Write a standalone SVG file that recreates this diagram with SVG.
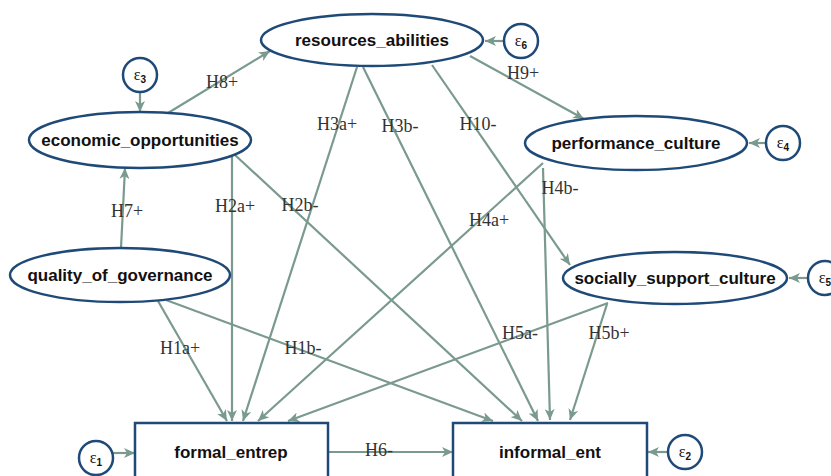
<svg xmlns="http://www.w3.org/2000/svg" width="831" height="476" viewBox="0 0 831 476">
<defs>
<marker id="ah" markerUnits="userSpaceOnUse" markerWidth="12" markerHeight="10" refX="11" refY="5" orient="auto">
<path d="M0,0 L11,5 L0,10 L3,5 z" fill="#7a9a8e"/>
</marker>
<style>
.n{fill:#fff;stroke:#1f4a78;stroke-width:2.5}
.t{font-family:"Liberation Sans",Arial,sans-serif;font-weight:bold;font-size:17px;fill:#111;text-anchor:middle}
.e{fill:none;stroke:#7a9a8e;stroke-width:2.2;marker-end:url(#ah)}
.l{font-family:"Liberation Serif","Times New Roman",serif;font-size:18px;fill:#333;text-anchor:middle}
.eps{font-family:"Liberation Serif",serif;font-size:16px;fill:#111;text-anchor:middle}
.sub{font-family:"Liberation Sans",sans-serif;font-size:10px;font-weight:bold}
</style>
</defs>
<rect width="831" height="476" fill="#fff"/>
<g id="connectors">
<path class="e" d="M504,41 L485,41"/>
<path class="e" d="M140,92 L140,112"/>
<path class="e" d="M766,143 L749,143"/>
<path class="e" d="M808,278 L789,278"/>
<path class="e" d="M113,453 L135,453"/>
<path class="e" d="M668,452 L648,452"/>
<path class="e" d="M168,113 L270,51"/>
<path class="e" d="M121,248 L125,168"/>
<path class="e" d="M470,56 L584,119"/>
<path class="e" d="M432,65 L570,265"/>
<path class="e" d="M357,67 L243,421"/>
<path class="e" d="M363,67 L538,421"/>
<path class="e" d="M232,157 L232,421"/>
<path class="e" d="M235,155 L522,421"/>
<path class="e" d="M543,163 L258,421"/>
<path class="e" d="M543,168 L550,420"/>
<path class="e" d="M158,301 L227,421"/>
<path class="e" d="M166,300 L493,421"/>
<path class="e" d="M608,303 L288,421"/>
<path class="e" d="M607,304 L570,420"/>
<path class="e" d="M328,452 L453,452"/>
<text class="l" x="222" y="88">H8+</text>
<text class="l" x="127" y="217">H7+</text>
<text class="l" x="523" y="79">H9+</text>
<text class="l" x="337" y="130">H3a+</text>
<text class="l" x="400" y="132">H3b-</text>
<text class="l" x="478" y="130">H10-</text>
<text class="l" x="235" y="212">H2a+</text>
<text class="l" x="300" y="211">H2b-</text>
<text class="l" x="489" y="226">H4a+</text>
<text class="l" x="560" y="194">H4b-</text>
<text class="l" x="180" y="354">H1a+</text>
<text class="l" x="303" y="354">H1b-</text>
<text class="l" x="520" y="339">H5a-</text>
<text class="l" x="609" y="339">H5b+</text>
<text class="l" x="379" y="456">H6-</text>
</g>
<g id="resources_abilities"><ellipse class="n" cx="372" cy="40" rx="111" ry="26"/><text class="t" x="372" y="46">resources_abilities</text></g>
<g id="economic_opportunities"><ellipse class="n" cx="140" cy="140" rx="111" ry="28"/><text class="t" x="140" y="146">economic_opportunities</text></g>
<g id="performance_culture"><ellipse class="n" cx="636" cy="143" rx="111" ry="27"/><text class="t" x="636" y="149">performance_culture</text></g>
<g id="quality_of_governance"><ellipse class="n" cx="120" cy="275" rx="110" ry="27"/><text class="t" x="120" y="281">quality_of_governance</text></g>
<g id="socially_support_culture"><ellipse class="n" cx="675" cy="278" rx="112" ry="26"/><text class="t" x="675" y="284">socially_support_culture</text></g>
<g id="formal_entrep"><rect class="n" x="135" y="423" width="193" height="70"/><text class="t" x="231" y="458">formal_entrep</text></g>
<g id="informal_ent"><rect class="n" x="453" y="423" width="194" height="70"/><text class="t" x="550" y="458">informal_ent</text></g>
<g id="eps6"><circle class="n" cx="521" cy="41" r="17"/><text class="eps" x="521" y="46">ε<tspan class="sub" dy="3">6</tspan></text></g>
<g id="eps3"><circle class="n" cx="140" cy="75" r="17"/><text class="eps" x="140" y="80">ε<tspan class="sub" dy="3">3</tspan></text></g>
<g id="eps4"><circle class="n" cx="783" cy="143" r="17"/><text class="eps" x="783" y="148">ε<tspan class="sub" dy="3">4</tspan></text></g>
<g id="eps5"><circle class="n" cx="825" cy="278" r="17"/><text class="eps" x="825" y="283">ε<tspan class="sub" dy="3">5</tspan></text></g>
<g id="eps1"><circle class="n" cx="96" cy="458" r="17"/><text class="eps" x="96" y="463">ε<tspan class="sub" dy="3">1</tspan></text></g>
<g id="eps2"><circle class="n" cx="685" cy="452" r="17"/><text class="eps" x="685" y="457">ε<tspan class="sub" dy="3">2</tspan></text></g>
</svg>
